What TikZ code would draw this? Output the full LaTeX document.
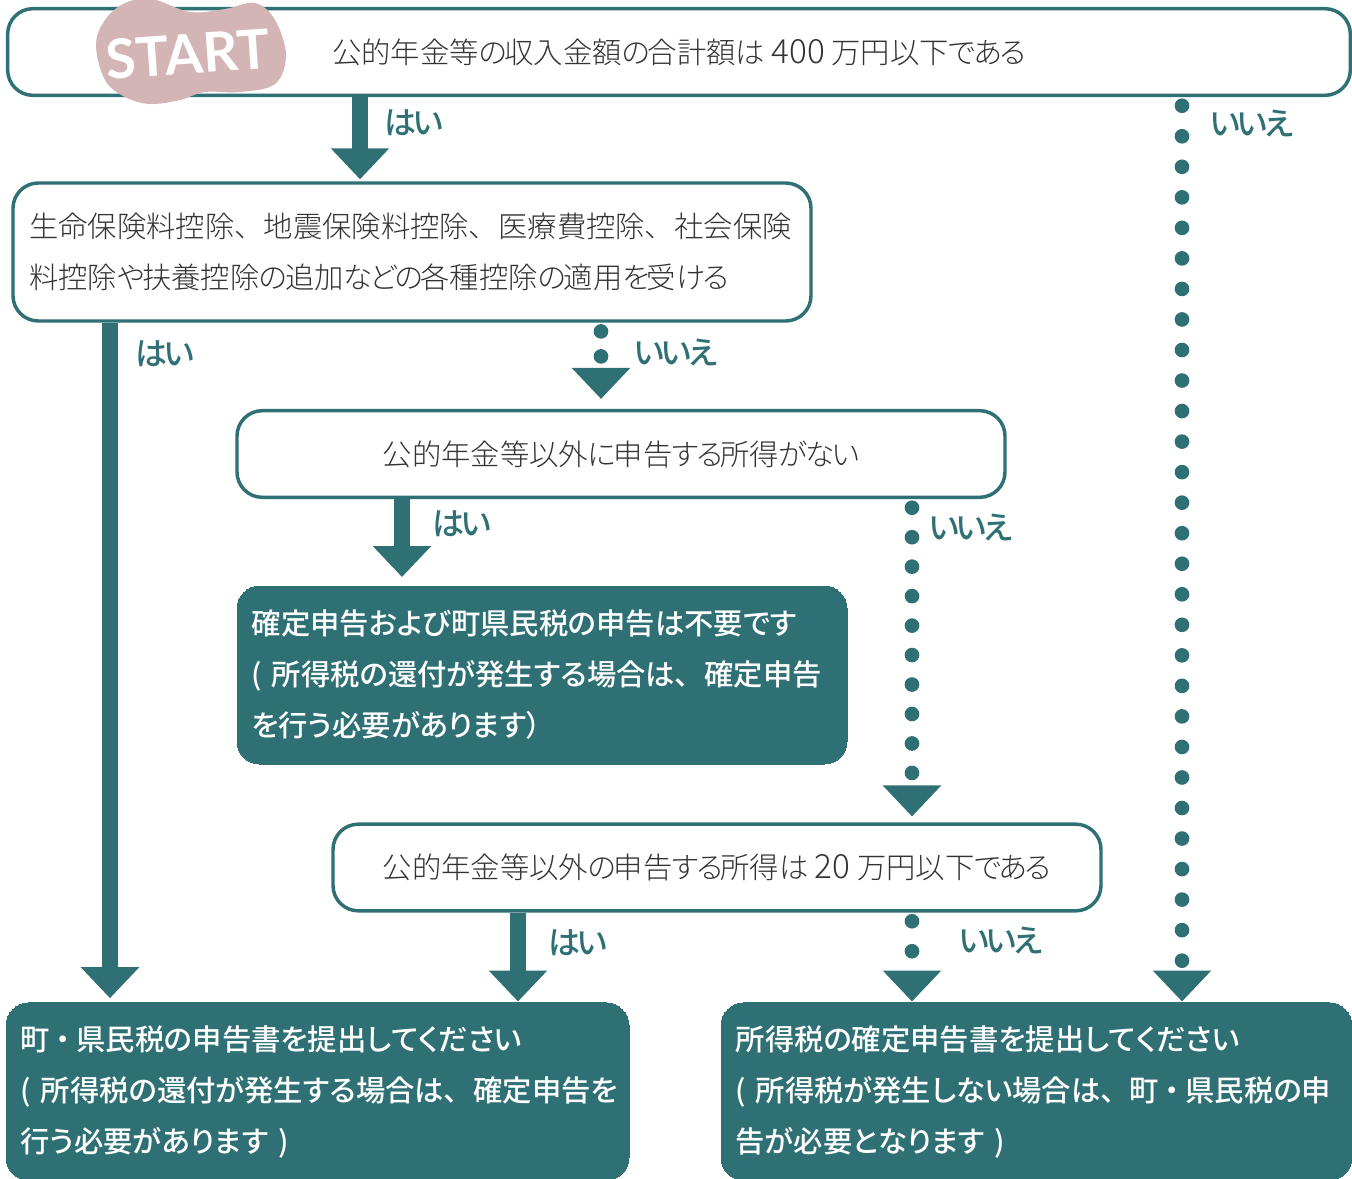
\documentclass[tikz,border=0pt]{standalone}
\usepackage{fontspec}
\setmainfont{Noto Sans CJK JP}[UprightFont=* Light,BoldFont=* Medium,RawFeature=+palt]
\newfontfamily\startfont{Lato}
\usetikzlibrary{positioning, calc, arrows.meta}

\definecolor{teal1}{HTML}{2F7074}
\definecolor{blob1}{HTML}{D4B5B5}

% kana sit closer than kanji
\newcommand{\kanagap}{-.085}
\newXeTeXintercharclass\kanaclass
\newcount\kanacode
\kanacode="3041
\loop
	\XeTeXcharclass\kanacode=\kanaclass
	\advance\kanacode by 1
\ifnum\kanacode<"3097 \repeat
\XeTeXinterchartoks\kanaclass\kanaclass={\kern\kanagap em}
\XeTeXinterchartoks\kanaclass 0={\kern\kanagap em}
\XeTeXinterchartokenstate=1

\tikzset{
	boxtext/.style = {font=\fontsize{22}{38.25}\selectfont},
	qbox/.style = {boxtext, draw=teal1, line width=2.6pt, rounded corners=19pt, fill=white, text=black!80, inner xsep=12pt, inner ysep=0pt, align=center},
	rbox/.style = {boxtext, draw=teal1, fill=teal1, line width=0pt, rounded corners=17pt, text=white, inner xsep=11pt, inner ysep=0pt, align=left, execute at begin node={\def\kanagap{0}}},
	anslabel/.style = {font=\fontsize{24}{24}\selectfont\bfseries, text=teal1, inner sep=0pt},
	yesline/.style = {draw=teal1, line width=11.5pt, -{Triangle[length=23.25pt,width=42.5pt]}},
	noline/.style = {draw=teal1, line width=11pt, line cap=round, dash pattern=on 0pt off #1, -{Triangle[length=23.25pt,width=42.5pt]}}
}
\newcommand{\tenmark}{、\kern.5em}
\newcommand{\dotmark}{\kern.2em・\kern.2em}
\newcommand{\digits}[1]{{\fontsize{25}{25}\selectfont #1}}

\begin{document}
\begin{tikzpicture}[x=.75pt, y=-.75pt]
	\useasboundingbox (0,0) rectangle (1352,1178);
	% questions
	\node[qbox, minimum width=1007pt, minimum height=65pt] at (679,52) (q1) {公的年金等の収入金額の合計額は \digits{400} 万円以下である};
	\node[qbox, align=left, text width=574.5pt, minimum height=103.5pt] at (412,252) (q2) {生命保険料控除\tenmark 地震保険料控除\tenmark 医療費控除\tenmark 社会保険\\料控除や扶養控除の追加などの各種控除の適用を受ける};
	\node[qbox, minimum width=576pt, minimum height=65pt] at (621,454) (q3) {公的年金等以外に申告する所得がない};
	\node[qbox, minimum width=576pt, minimum height=65pt] at (717,867.5) (q4) {公的年金等以外の申告する所得は \digits{20} 万円以下である};
	% results
	\node[rbox, text width=435.5pt, minimum height=133.5pt] at (542,675) (r1) {\bfseries 確定申告および町県民税の申告は不要です\\\bfseries ( 所得税の還付が発生する場合は\tenmark 確定申告\\\bfseries を行う必要があります）};
	\node[rbox, text width=445.25pt, minimum height=133pt] at (317.5,1091.5) (r2) {\bfseries 町\dotmark 県民税の申告書を提出してください\\\bfseries ( 所得税の還付が発生する場合は\tenmark 確定申告を\\\bfseries 行う必要があります )};
	\node[rbox, text width=451.25pt, minimum height=133pt] at (1036.5,1091.5) (r3) {\bfseries 所得税の確定申告書を提出してください\\\bfseries ( 所得税が発生しない場合は\tenmark 町\dotmark 県民税の申\\\bfseries 告が必要となります )};
	% start mark
	\fill[blob1] plot[smooth cycle, tension=.6] coordinates {(96,45) (105,20) (125,3) (152,-1) (190,12) (225,9) (255,3) (275,20) (286,55) (275,84) (240,92) (205,92) (180,100) (150,104) (125,97) (105,80)};
	\node[font=\startfont\bfseries\fontsize{41}{41}\selectfont, text=white, rotate=4, inner sep=0pt] at (188,54) (start) {START};
	% columns of the connectors
	\coordinate (c1) at (360,0);
	\coordinate (c2) at (1182,0);
	\coordinate (c3) at (110,0);
	\coordinate (c4) at (601,0);
	\coordinate (c5) at (402,0);
	\coordinate (c6) at (912,0);
	\coordinate (c7) at (518,0);
	% connectors
	\draw[yesline, shorten >=1.5pt] (c1 |- q1.south) -- (c1 |- q2.north);
	\draw[noline=22.9pt, shorten <=6.5pt, shorten >=1pt] (c2 |- q1.south) -- (c2 |- r3.north);
	\draw[yesline, shorten >=3.5pt] (c3 |- q2.south) -- (c3 |- r2.north);
	\draw[noline=18.75pt, shorten <=6.5pt, shorten >=7.5pt] (c4 |- q2.south) -- (c4 |- q3.north);
	\draw[yesline, shorten >=6.75pt] (c5 |- q3.south) -- (c5 |- r1.north);
	\draw[noline=22.1pt, shorten <=6.5pt, shorten >=4.5pt] (c6 |- q3.south) -- (c6 |- q4.north);
	\draw[yesline, shorten >=1pt] (c7 |- q4.south) -- (c7 |- r2.north);
	\draw[noline=22.5pt, shorten <=6.5pt, shorten >=1pt] (c6 |- q4.south) -- (c6 |- r3.north);
	% answers
	\node[anslabel] at (414,123) (yes1) {はい};
	\node[anslabel] at (1252,124) (no1) {いいえ};
	\node[anslabel] at (165,354) (yes2) {はい};
	\node[anslabel] at (676,353) (no2) {いいえ};
	\node[anslabel] at (462,524) (yes3) {はい};
	\node[anslabel] at (971,528) (no3) {いいえ};
	\node[anslabel] at (578,943) (yes4) {はい};
	\node[anslabel] at (1001,941) (no4) {いいえ};
\end{tikzpicture}
\end{document}
